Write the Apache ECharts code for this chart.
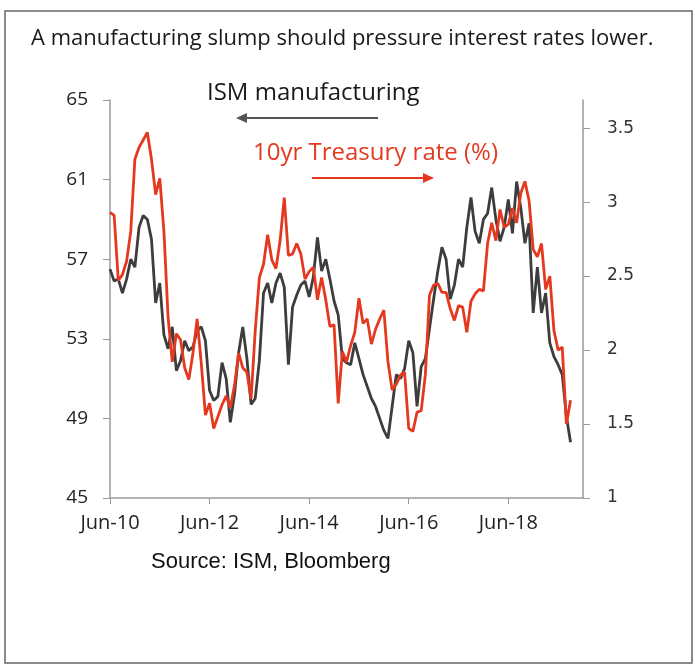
<!DOCTYPE html>
<html>
<head>
<meta charset="utf-8">
<script src="https://cdn.jsdelivr.net/npm/echarts@6/dist/echarts.min.js"></script>
<style>
html,body{margin:0;padding:0;background:#fff;}
#chart{width:695px;height:667px;}
</style>
</head>
<body>
<div id="chart"></div>
<script>
// Monthly categories Jun-10 .. Dec-19 (data runs to Sep-19)
const monthNames = ['Jan','Feb','Mar','Apr','May','Jun','Jul','Aug','Sep','Oct','Nov','Dec'];
const categories = [];
for (let y = 2010, m = 5; !(y === 2020); ) {
  categories.push(monthNames[m] + '-' + String(y).slice(2));
  m++; if (m > 11) { m = 0; y++; }
}
const tickLabels = ['Jun-10', 'Jun-12', 'Jun-14', 'Jun-16', 'Jun-18'];

// ISM manufacturing index (left axis)
const ismValues = [
  56.5, 55.9, 56.0, 55.3, 56.0, 57.0, 56.6,
  58.6, 59.2, 59.0, 58.0, 54.8, 55.8, 53.2, 52.5, 53.6, 51.4, 51.9, 52.9,
  52.4, 52.6, 53.4, 53.6, 52.9, 50.4, 49.9, 50.1, 51.8, 51.0, 48.8, 50.2,
  52.3, 53.6, 52.0, 49.7, 50.0, 51.9, 55.3, 55.8, 54.8, 55.8, 56.3, 55.6,
  51.7, 54.6, 55.2, 55.7, 55.9, 55.1, 56.1, 58.1, 56.4, 57.0, 56.0, 54.9,
  54.2, 52.0, 51.8, 51.7, 52.8, 52.0, 51.2, 50.6, 50.0, 49.6, 49.0, 48.4,
  48.0, 49.6, 51.2, 51.0, 51.5, 52.9, 52.3, 49.6, 51.6, 52.0, 53.5, 55.0,
  56.4, 57.6, 57.0, 55.0, 55.7, 57.0, 56.6, 58.6, 60.1, 58.4, 57.8, 59.0,
  59.3, 60.6, 59.0, 57.9, 58.6, 60.0, 58.3, 60.9, 59.6, 57.8, 58.8, 54.3,
  56.6, 54.3, 55.3, 52.8, 52.1, 51.7, 51.2, 49.1, 47.8
];

// 10yr Treasury rate, % (right axis)
const treasuryValues = [
  2.93, 2.91, 2.47, 2.51, 2.60, 2.80, 3.29,
  3.37, 3.42, 3.47, 3.29, 3.05, 3.16, 2.80, 2.22, 1.92, 2.11, 2.07, 1.88,
  1.80, 1.98, 2.21, 1.91, 1.56, 1.64, 1.47, 1.55, 1.63, 1.69, 1.61, 1.76,
  1.98, 1.88, 1.85, 1.67, 2.13, 2.49, 2.58, 2.78, 2.61, 2.55, 2.74, 3.03,
  2.64, 2.65, 2.72, 2.65, 2.48, 2.53, 2.56, 2.34, 2.49, 2.34, 2.16, 2.17,
  1.64, 1.99, 1.92, 2.03, 2.12, 2.35, 2.18, 2.21, 2.04, 2.14, 2.21, 2.27,
  1.92, 1.73, 1.77, 1.83, 1.85, 1.47, 1.45, 1.58, 1.59, 1.83, 2.37, 2.44,
  2.45, 2.39, 2.39, 2.28, 2.20, 2.30, 2.29, 2.12, 2.33, 2.38, 2.41, 2.40,
  2.72, 2.86, 2.74, 2.95, 2.83, 2.85, 2.96, 2.86, 3.06, 3.14, 3.01, 2.68,
  2.63, 2.72, 2.41, 2.50, 2.13, 2.00, 2.02, 1.50, 1.66
];

const leftTicks = [45, 49, 53, 57, 61, 65];
const rightTicks = [1, 1.5, 2, 2.5, 3, 3.5];

const RED = '#e5391f';
const DARK = '#3d3d3d';
const calibriLike = '"Open Sans", Lato, sans-serif';

const chart = echarts.init(document.getElementById('chart'), null, {renderer: 'canvas'});
const showTick = (idx, val) => tickLabels.indexOf(val) >= 0;

chart.setOption({
  animation: false,
  backgroundColor: '#fff',
  title: [
    {
      text: 'A manufacturing slump should pressure interest rates lower.',
      left: 26, top: 23,
      textStyle: {fontFamily: calibriLike, fontSize: 22, fontWeight: 'normal', color: '#1a1a1a'}
    },
    {
      text: 'Source: ISM, Bloomberg',
      left: 146, top: 546,
      textStyle: {fontFamily: '"Liberation Sans", Arial, sans-serif', fontSize: 22, fontWeight: 'normal', color: '#111'}
    }
  ],
  grid: {left: 110, right: 112, top: 100, bottom: 169, containLabel: false},
  xAxis: {
    type: 'category',
    data: categories,
    boundaryGap: false,
    axisLine: {lineStyle: {color: '#9a9a9a', width: 1.5}},
    axisTick: {show: true, interval: showTick, length: 6, lineStyle: {color: '#9a9a9a'}},
    axisLabel: {
      interval: showTick, margin: 15,
      fontFamily: calibriLike, fontSize: 20, color: '#222'
    },
    splitLine: {show: false}
  },
  yAxis: [
    {
      type: 'value', min: 45, max: 65, interval: 4, position: 'left',
      axisLine: {show: true, lineStyle: {color: '#9a9a9a', width: 1.5}},
      axisTick: {show: true, length: 7, customValues: leftTicks, lineStyle: {color: '#9a9a9a'}},
      axisLabel: {customValues: leftTicks, fontFamily: calibriLike, fontSize: 19, color: '#222', margin: 22},
      splitLine: {show: false}
    },
    {
      type: 'value', min: 1, max: 3.69, position: 'right',
      axisLine: {show: true, lineStyle: {color: '#9a9a9a', width: 1.5}},
      axisTick: {show: true, length: 7, customValues: rightTicks, lineStyle: {color: '#9a9a9a'}},
      axisLabel: {customValues: rightTicks, fontFamily: '"DejaVu Sans", Verdana, sans-serif', fontSize: 17, color: '#333', margin: 24},
      splitLine: {show: false}
    }
  ],
  series: [
    {
      name: 'ISM manufacturing', type: 'line', yAxisIndex: 0,
      data: ismValues, symbol: 'none', z: 2,
      lineStyle: {color: DARK, width: 2.8}
    },
    {
      name: '10yr Treasury rate (%)', type: 'line', yAxisIndex: 1,
      data: treasuryValues, symbol: 'none', z: 3,
      lineStyle: {color: RED, width: 2.8}
    }
  ],
  graphic: [
    {type: 'rect', shape: {x: 5, y: 11, width: 687, height: 652}, style: {fill: 'none', stroke: '#666', lineWidth: 1.5}, silent: true},
    {type: 'text', left: 207, top: 81, style: {text: 'ISM manufacturing', font: '24px "Open Sans", sans-serif', fill: '#1a1a1a'}},
    {type: 'line', shape: {x1: 244, y1: 118, x2: 378, y2: 118}, style: {stroke: '#555', lineWidth: 2}},
    {type: 'polygon', shape: {points: [[236, 118], [247, 113], [247, 123]]}, style: {fill: '#555'}},
    {type: 'text', left: 253, top: 141, style: {text: '10yr Treasury rate (%)', font: '24px "Open Sans", sans-serif', fill: RED}},
    {type: 'line', shape: {x1: 312, y1: 178, x2: 426, y2: 178}, style: {stroke: RED, lineWidth: 2}},
    {type: 'polygon', shape: {points: [[434, 178], [423, 173], [423, 183]]}, style: {fill: RED}}
  ]
});
</script>
</body>
</html>
